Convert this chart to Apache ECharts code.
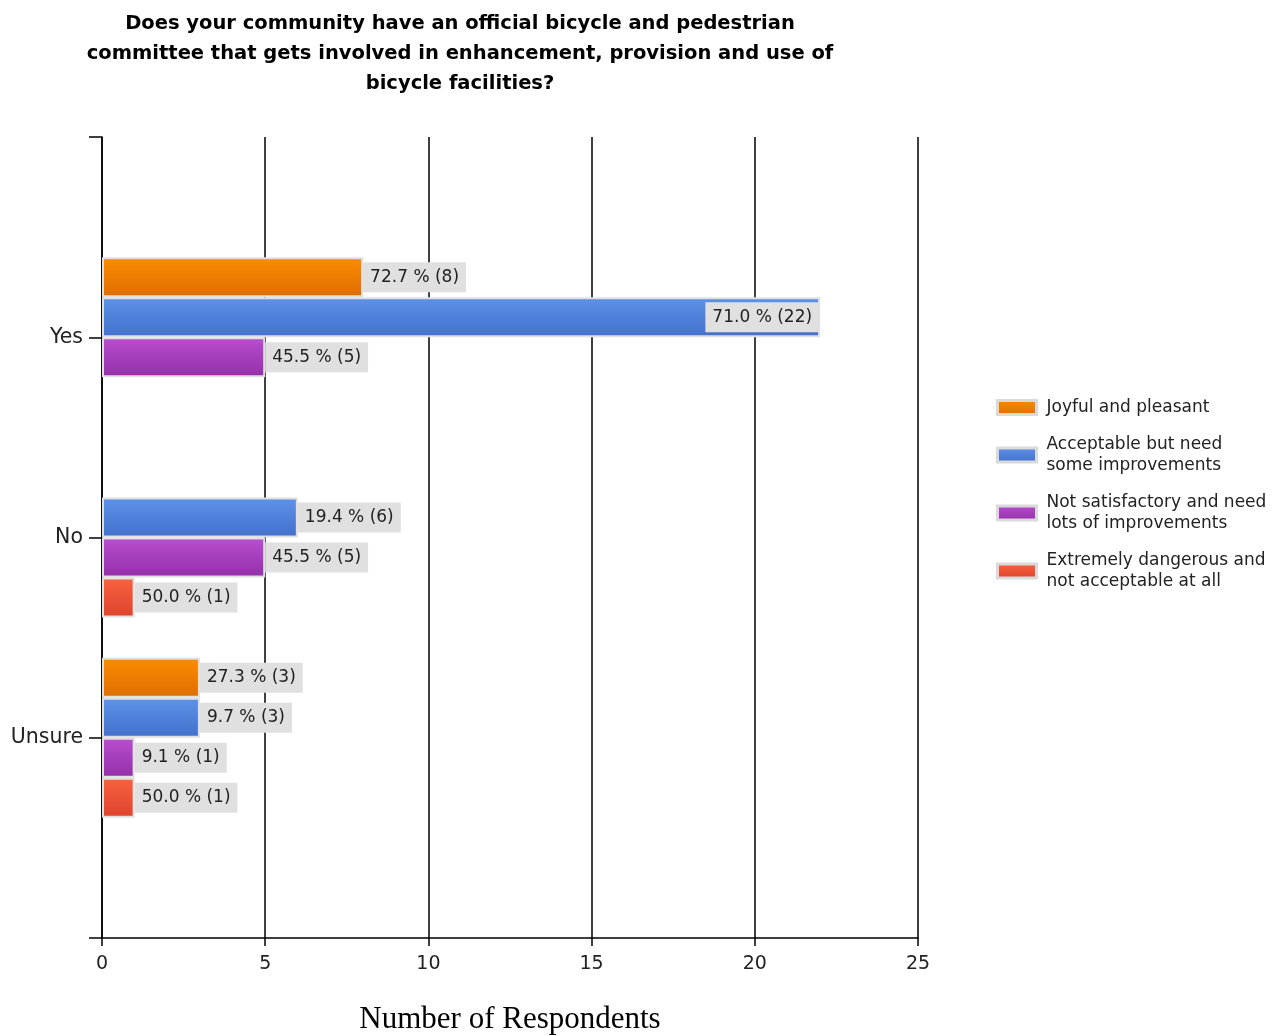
<!DOCTYPE html>
<html>
<head>
<meta charset="utf-8">
<script src="https://cdn.jsdelivr.net/npm/echarts@6/dist/echarts.min.js"></script>
<style>
html,body{margin:0;padding:0;background:#fff;}
#chart{width:1278px;height:1036px;}
</style>
</head>
<body>
<div id="chart"></div>
<script>
// ---- data ----
var categories = ['Yes', 'No', 'Unsure'];
var seriesNames = ['Joyful and pleasant', 'Acceptable but need some improvements', 'Not satisfactory and need lots of improvements', 'Extremely dangerous and not acceptable at all'];
var legendLabels = ['Joyful and pleasant', 'Acceptable but need\nsome improvements', 'Not satisfactory and need\nlots of improvements', 'Extremely dangerous and\nnot acceptable at all'];
var joyfulCounts = [8, null, 3];
var joyfulPcts = [72.7, null, 27.3];
var acceptableCounts = [22, 6, 3];
var acceptablePcts = [71.0, 19.4, 9.7];
var notSatCounts = [5, 5, 1];
var notSatPcts = [45.5, 45.5, 9.1];
var extremeCounts = [null, 1, 1];
var extremePcts = [null, 50.0, 50.0];
var xTicks = [0, 5, 10, 15, 20, 25];

var counts = [joyfulCounts, acceptableCounts, notSatCounts, extremeCounts];
var pcts = [joyfulPcts, acceptablePcts, notSatPcts, extremePcts];
var gradients = [
  ['#fb8c00', '#df6d00'],
  ['#5e92e8', '#4270cb'],
  ['#b84fcf', '#932ea8'],
  ['#f9623f', '#de432d']
];

// padded axis categories (empty slots at both ends)
var axisCats = [''].concat(categories).concat(['']);

var chart = echarts.init(document.getElementById('chart'));
var series = seriesNames.map(function (name, si) {
  var data = [null].concat(counts[si].map(function (v, ci) {
    if (v == null) return null;
    var item = { value: v, pct: pcts[si][ci] };
    if (v >= 20) {
      item.label = { position: 'insideRight', distance: 1 };
    }
    return item;
  })).concat([null]);
  return {
    name: name,
    type: 'bar',
    barWidth: 40,
    barGap: '0%',
    data: data,
    itemStyle: {
      color: new echarts.graphic.LinearGradient(0, 0, 0, 1, [
        { offset: 0, color: gradients[si][0] },
        { offset: 1, color: gradients[si][1] }
      ]),
      borderColor: '#e0e0e0',
      borderWidth: 2
    },
    label: {
      show: true,
      position: 'right',
      distance: 0,
      backgroundColor: '#e0e0e0',
      padding: [7, 7, 6, 7],
      color: '#222',
      fontFamily: 'DejaVu Sans',
      fontSize: 17,
      formatter: function (p) {
        return p.data.pct.toFixed(1) + ' % (' + p.data.value + ')';
      }
    }
  };
});

chart.setOption({
  animation: false,
  backgroundColor: '#fff',
  title: {
    text: 'Does your community have an official bicycle and pedestrian\ncommittee that gets involved in enhancement, provision and use of\nbicycle facilities?',
    left: 455,
    top: 4,
    textAlign: 'center',
    textStyle: {
      fontFamily: 'DejaVu Sans',
      fontWeight: 'bold',
      fontSize: 19.5,
      lineHeight: 30,
      color: '#000'
    }
  },
  legend: {
    orient: 'vertical',
    left: 991,
    top: 392,
    icon: 'rect',
    itemWidth: 39,
    itemHeight: 14,
    itemGap: 16,
    data: seriesNames,
    formatter: function (n) { return legendLabels[seriesNames.indexOf(n)]; },
    itemStyle: { borderColor: '#dadada', borderWidth: 3 },
    textStyle: {
      fontFamily: 'DejaVu Sans',
      fontSize: 17,
      lineHeight: 21,
      color: '#222',
      padding: [0, 0, 0, 5]
    }
  },
  grid: { left: 102, right: 360, top: 137, bottom: 98, containLabel: false, outerBoundsMode: 'none' },
  xAxis: {
    type: 'value',
    min: xTicks[0],
    max: xTicks[xTicks.length - 1],
    interval: 5,
    name: 'Number of Respondents',
    nameLocation: 'middle',
    nameGap: 66,
    nameTextStyle: { fontFamily: 'Liberation Serif', fontSize: 31, color: '#000' },
    axisLine: { show: true, lineStyle: { color: '#000', width: 1.5 } },
    axisTick: { show: true, length: 8, lineStyle: { color: '#000', width: 1.5 } },
    axisLabel: { fontFamily: 'DejaVu Sans', fontSize: 19, color: '#222', margin: 17 },
    splitLine: { show: true, lineStyle: { color: '#000', width: 1.5 } }
  },
  yAxis: {
    type: 'category',
    data: axisCats,
    inverse: true,
    boundaryGap: false,
    axisLine: { show: true, lineStyle: { color: '#000', width: 1.5 } },
    axisTick: { show: true, length: 13, lineStyle: { color: '#000', width: 1.5 } },
    axisLabel: { fontFamily: 'DejaVu Sans', fontSize: 20.5, color: '#222', margin: 19 },
    splitLine: { show: false }
  },
  series: series
});
</script>
</body>
</html>
